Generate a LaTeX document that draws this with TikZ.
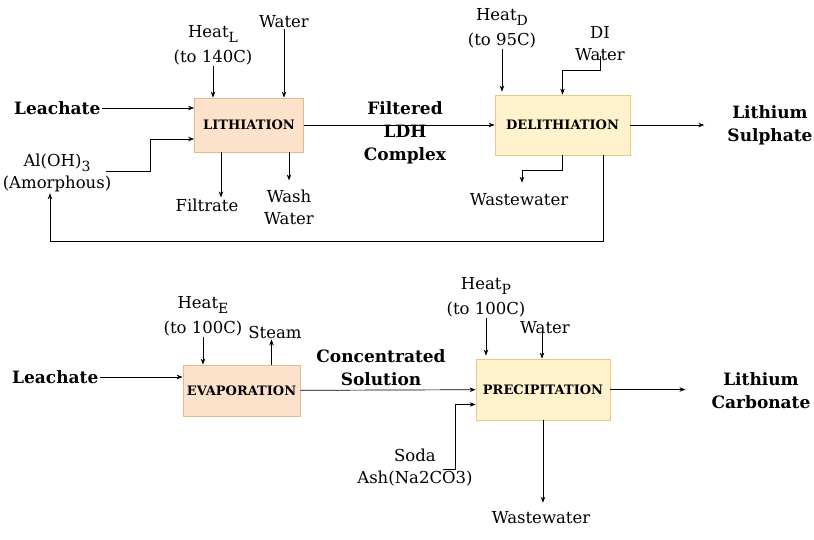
\documentclass[tikz,border=0pt]{standalone}
\usepackage{fontspec}
\setmainfont{DejaVu Serif}
\usetikzlibrary{arrows.meta}

\definecolor{orfill}{HTML}{FCE2CA}
\definecolor{ordraw}{HTML}{E6B98A}
\definecolor{yefill}{HTML}{FFF2CC}
\definecolor{yedraw}{HTML}{E3CD85}

\newcommand{\lowsub}[1]{\raisebox{-5pt}{\fontsize{14}{14}\selectfont #1}}

\tikzset{
  unit/.style={draw, line width=0.8pt, inner sep=0pt, font=\fontsize{13}{15}\selectfont\bfseries},
  orbox/.style={unit, fill=orfill, draw=ordraw},
  yebox/.style={unit, fill=yefill, draw=yedraw},
  lbl/.style={align=center, inner sep=1pt, font=\fontsize{16.5}{22}\selectfont},
  blbl/.style={align=center, inner sep=1pt, font=\fontsize{17}{23}\selectfont\bfseries},
  arr/.style={-{Stealth[length=6pt,width=4.5pt]}, line width=0.7pt}
}

\begin{document}
\begin{tikzpicture}[x=1pt,y=-1pt]
				
				\useasboundingbox (0,0) rectangle (814,539);
				
				% --- Process units ---
				\node[orbox, minimum width=109pt, minimum height=54pt] (lith)   at (249,125)   {LITHIATION};
				\node[yebox, minimum width=135pt, minimum height=60pt] (delith) at (562.5,125) {DELITHIATION};
				\node[orbox, minimum width=117pt, minimum height=51pt] (evap)   at (241.5,390.5) {EVAPORATION};
				\node[yebox, minimum width=134pt, minimum height=61pt] (precip) at (543,389.5) {PRECIPITATION};
				
				% --- Streams, first line ---
				\node[blbl, anchor=west] (leachA) at (13,108) {Leachate};
				\node[lbl] (alo)    at (57,173) {Al(OH)\lowsub{3}\\(Amorphous)};
				\node[lbl] (heatL)  at (213,45) {Heat\lowsub{L}\\[3pt](to 140C)};
				\node[lbl] (waterA) at (284,22) {Water};
				\node[lbl] (filt)   at (207,205) {Filtrate};
				\node[lbl] (wash)   at (289,207) {Wash\\Water};
				\node[blbl] (ldh)   at (405,133) {Filtered\\LDH\\Complex};
				\node[lbl] (heatD)  at (502,28) {Heat\lowsub{D}\\[3pt](to 95C)};
				\node[lbl] (diw)    at (600,44) {DI\\Water};
				\node[lbl] (wwA)    at (519,200) {Wastewater};
				\node[blbl] (lis)   at (770,125) {Lithium\\Sulphate};
				
				% --- Streams, second line ---
				\node[blbl, anchor=west] (leachB) at (11,377) {Leachate};
				\node[lbl] (heatE)  at (203,316) {Heat\lowsub{E}\\[3pt](to 100C)};
				\node[lbl] (steam)  at (275,332) {Steam};
				\node[blbl] (conc)  at (381,368) {Concentrated\\Solution};
				\node[lbl] (heatP)  at (486,297) {Heat\lowsub{P}\\[3pt](to 100C)};
				\node[lbl] (waterB) at (545,328) {Water};
				\node[lbl] (soda)   at (415,468) {Soda\\Ash(Na2CO3)};
				\node[lbl] (wwB)    at (541,518) {Wastewater};
				\node[blbl] (lic)   at (761,391) {Lithium\\Carbonate};
				
				\coordinate (ret) at (603,241);
				
				% --- Lithiation ---
				\draw[arr] (leachA.east) -- (leachA.east -| lith.west);
				\draw[arr] ([xshift=-6pt,yshift=2pt]alo.east) -- ++(44,0) |- ([yshift=-14pt]lith.west);
				\draw[arr] (heatL.south) -- (heatL.south |- lith.north);
				\draw[arr] (waterA.south) -- (waterA.south |- lith.north);
				\draw[arr] ([xshift=-28pt]lith.south) -- ([xshift=-28pt]lith.south |- filt.north);
				\draw[arr] (lith.south -| wash.north) -- ([yshift=8pt]wash.north);
				
				% --- Delithiation ---
				\draw[arr] (lith) -- (delith);
				\draw[arr] (heatD.south) -- ([yshift=3pt]heatD.south |- delith.north);
				\draw[arr] ([yshift=6pt]diw.south) -- ++(0,14) -| (delith.north);
				\draw[arr] (delith.south) -- ++(0,15) -| ([xshift=3pt,yshift=10pt]wwA.north);
				\draw[arr] (delith.east) -- ([xshift=-22pt]delith.east -| lis.west);
				\draw[arr] (delith.south -| ret) -- (ret) -| ([xshift=-7pt]alo.south);
				
				% --- Evaporation ---
				\draw[arr] (leachB.east) -- (leachB.east -| evap.west);
				\draw[arr] (heatE.south) -- (heatE.south |- evap.north);
				\draw[arr] ([xshift=30pt]evap.north) -- ([xshift=30pt]evap.north |- steam.south);
				
				% --- Precipitation ---
				\draw[arr] (evap) -- (precip);
				\draw[arr] (heatP.south) -- ([yshift=3pt]heatP.south |- precip.north);
				\draw[arr] ([xshift=-3pt,yshift=4pt]waterB.south) -- ([xshift=-3pt]waterB.south |- precip.north);
				\draw[arr] ([xshift=-31pt,yshift=-1pt]soda.east) -- ++(12,0) |- ([yshift=-15pt]precip.west);
				\draw[arr] (precip.south) -- ([yshift=8pt]precip.south |- wwB.north);
				\draw[arr] (precip.east) -- ([xshift=-25pt]precip.east -| lic.west);
				
			\end{tikzpicture}
\end{document}
